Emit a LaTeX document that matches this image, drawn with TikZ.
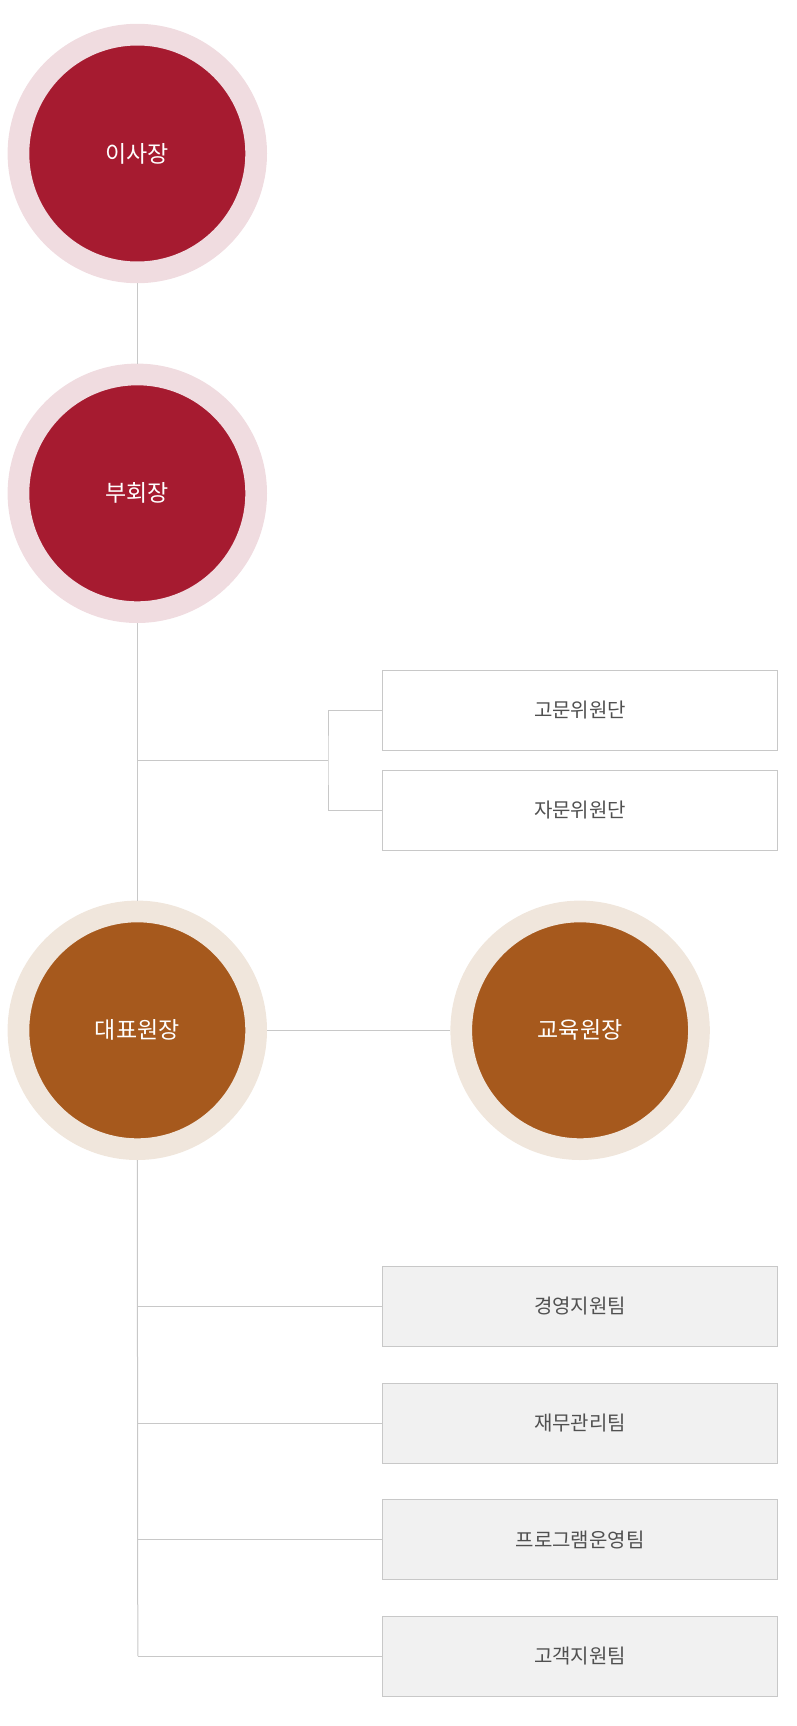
\documentclass[tikz,border=0pt]{standalone}
\usepackage{fontspec}
\setmainfont{Noto Sans CJK KR}
\definecolor{redin}{RGB}{166,27,48}
\definecolor{redout}{RGB}{240,220,224}
\definecolor{brin}{RGB}{166,89,29}
\definecolor{brout}{RGB}{240,230,220}
\definecolor{lncol}{RGB}{200,200,200}
\definecolor{boxfill}{RGB}{241,241,241}
\definecolor{txtgray}{RGB}{80,80,80}
\tikzset{
  redcirc/.style={circle, inner sep=0pt, minimum size=237.7pt, line width=21.7pt, fill=redin, draw=redout, text=white, font=\fontsize{23}{27}\selectfont},
  brcirc/.style={circle, inner sep=0pt, minimum size=237.7pt, line width=21.7pt, fill=brin, draw=brout, text=white, font=\fontsize{23}{27}\selectfont},
  wbox/.style={rectangle, inner sep=0pt, minimum width=395pt, minimum height=80pt, fill=white, draw=lncol, line width=1pt, text=txtgray, font=\fontsize{20}{24}\selectfont},
  gbox/.style={wbox, fill=boxfill},
  conn/.style={draw=lncol, line width=1pt}
}
\begin{document}
\begin{tikzpicture}[x=1pt,y=-1pt]
\useasboundingbox (0,0) rectangle (797,1726);
\node[redcirc] (c1) at (137.3,153.5) {이사장};
\node[redcirc] (c2) at (137.3,493.3) {부회장};
\node[brcirc] (c3) at (137.3,1030.3) {대표원장};
\node[brcirc] (c4) at (580.1,1030.3) {교육원장};
\node[wbox] (a1) at (580,710.3) {고문위원단};
\node[wbox] (a2) at (580,810.3) {자문위원단};
\node[gbox] (b1) at (580,1306.4) {경영지원팀};
\node[gbox] (b2) at (580,1423) {재무관리팀};
\node[gbox] (b3) at (580,1539.5) {프로그램운영팀};
\node[gbox] (b4) at (580,1656) {고객지원팀};
\coordinate (j1) at (137.3,760.3);
\coordinate (j2) at (328,760.3);
\coordinate (bend) at (137.8,1656);
\draw[conn] (c1) -- (c2);
\draw[conn] (c2) -- (c3);
\draw[conn] (c3) -- (c4);
\draw[conn] (j1) -- (j2);
\draw[conn] (a1.west) -| (j2) |- (a2.west);
\draw[conn] (c3.south) -- (bend);
\draw[conn] (bend) -- (b4.west);
\draw[conn] (b1.west -| bend) -- (b1.west);
\draw[conn] (b2.west -| bend) -- (b2.west);
\draw[conn] (b3.west -| bend) -- (b3.west);
\end{tikzpicture}
\end{document}
